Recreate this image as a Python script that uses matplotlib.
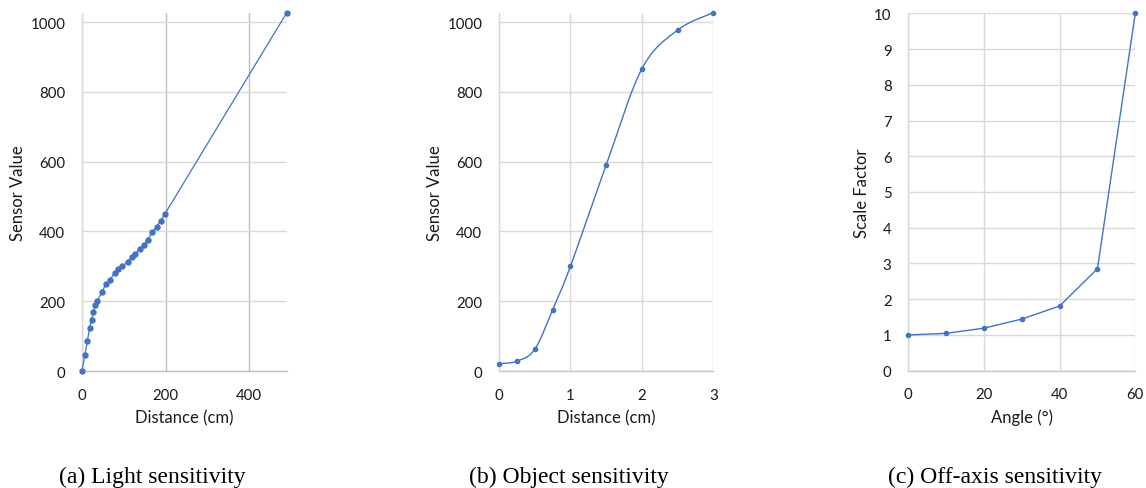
import numpy as np
import matplotlib
matplotlib.use("Agg")
import matplotlib.pyplot as plt

# ---------------- data ----------------
light_dist = [0, 7, 13, 18, 23, 27, 32, 37, 47, 57, 68, 78, 87, 97, 109, 119,
              128, 138, 148, 157, 168, 179, 189, 199, 490]
light_val = [0, 46, 87, 122, 147, 170, 188, 202, 225, 248, 262, 282, 291, 301,
             312, 327, 336, 350, 362, 376, 397, 414, 431, 451, 1026]

obj_dist = [0, 0.25, 0.5, 0.75, 1.0, 1.5, 2.0, 2.5, 3.0]
obj_val = [21, 28, 62, 175, 300, 590, 866, 977, 1027]

angle = [0, 10, 20, 30, 40, 50, 60]
scale_factor = [1.0, 1.045, 1.19, 1.445, 1.81, 2.855, 10.0]

captions = ["(a) Light sensitivity", "(b) Object sensitivity", "(c) Off-axis sensitivity"]
xlabels = ["Distance (cm)", "Distance (cm)", "Angle (°)"]
ylabels = ["Sensor Value", "Sensor Value", "Scale Factor"]

BLUE = "#4472C4"
GRID = "#d9d9d9"
GRID_DARK = "#bfbfbf"


def excel_smooth(x, y, n=40):
    """Excel-like smoothed line: Bezier segments with Catmull-Rom control points."""
    P = np.column_stack([x, y]).astype(float)
    out = []
    m = len(P)
    for i in range(m - 1):
        p0 = P[i]
        p3 = P[i + 1]
        prev = P[i - 1] if i > 0 else P[i]
        nxt = P[i + 2] if i + 2 < m else P[i + 1]
        c1 = p0 + (p3 - prev) / 6.0
        c2 = p3 - (nxt - p0) / 6.0
        t = np.linspace(0, 1, n)[:, None]
        seg = ((1 - t) ** 3) * p0 + 3 * ((1 - t) ** 2) * t * c1 + 3 * (1 - t) * t ** 2 * c2 + t ** 3 * p3
        out.append(seg if i == 0 else seg[1:])
    s = np.vstack(out)
    return s[:, 0], s[:, 1]


plt.rcParams['font.family'] = ['Lato', 'DejaVu Sans']

W, H = 1146, 489
fig = plt.figure(figsize=(W / 100, H / 100), dpi=100)


def add_ax(left, right, top, bottom):
    return fig.add_axes([left / W, 1 - bottom / H, (right - left) / W, (bottom - top) / H])


axes = [
    add_ax(82, 287, 14, 372),
    add_ax(499, 713.3, 14, 372),
    add_ax(908.3, 1135.3, 14.3, 371.7),
]

# (a)
ax = axes[0]
ax.plot(light_dist, light_val, color=BLUE, lw=0.9, marker='o', ms=3.6, mec=BLUE, mfc=BLUE, zorder=3,
        clip_on=False)
ax.set_xlim(0, 491)
ax.set_ylim(0, 1026)
ax.set_xticks([0, 200, 400])
ax.set_yticks(range(0, 1001, 200))

# (b)
ax = axes[1]
sx, sy = excel_smooth(obj_dist, obj_val)
ax.plot(sx, sy, color=BLUE, lw=1.0, zorder=3, clip_on=False)
ax.plot(obj_dist, obj_val, ls='none', marker='o', ms=3.0, mec=BLUE, mfc=BLUE, zorder=4, clip_on=False)
ax.set_xlim(0, 3)
ax.set_ylim(0, 1026)
ax.set_xticks([0, 1, 2, 3])
ax.set_yticks(range(0, 1001, 200))

# (c)
ax = axes[2]
ax.plot(angle, scale_factor, color=BLUE, lw=1.0, marker='o', ms=3.0, mec=BLUE, mfc=BLUE, zorder=3,
        clip_on=False)
ax.set_xlim(0, 60)
ax.set_ylim(0, 10)
ax.set_xticks([0, 20, 40, 60])
ax.set_yticks(range(0, 11, 1))

label_x = [17.5, 435, 862]
for i, ax in enumerate(axes):
    for s in ['top', 'right']:
        ax.spines[s].set_visible(False)
    ax.spines['left'].set_color(GRID)
    ax.spines['left'].set_linewidth(1.0)
    ax.spines['bottom'].set_color(GRID_DARK if i == 0 else "#c8c8c8")
    ax.spines['bottom'].set_linewidth(1.0)
    ax.grid(True, axis='y', color=GRID, lw=1.0)
    ax.grid(True, axis='x', color=GRID_DARK if i == 0 else GRID, lw=1.0)
    ax.set_axisbelow(True)
    ax.tick_params(length=0, pad=12, labelsize=10.8, labelcolor="#1a1a1a")
    ax.set_xlabel(xlabels[i], fontsize=12, color="#1a1a1a")
    ax.set_ylabel(ylabels[i], fontsize=12, color="#1a1a1a")
    bb = ax.get_position()
    lx = (label_x[i] / W - bb.x0) / bb.width
    ax.yaxis.set_label_coords(lx, 0.5)
    ly = (1 - 418 / H - bb.y0) / bb.height
    ax.xaxis.set_label_coords(0.5, ly)
    ax.xaxis.label.set_va('center')
    ax.yaxis.label.set_va('center')

cap_x = [152, 569, 995]
for cx, cap in zip(cap_x, captions):
    fig.text(cx / W, 1 - 483 / H, cap, ha='center', va='baseline', fontsize=17,
             family=['Liberation Serif', 'DejaVu Serif'])

fig.savefig("out.png", dpi=100, facecolor='white')
